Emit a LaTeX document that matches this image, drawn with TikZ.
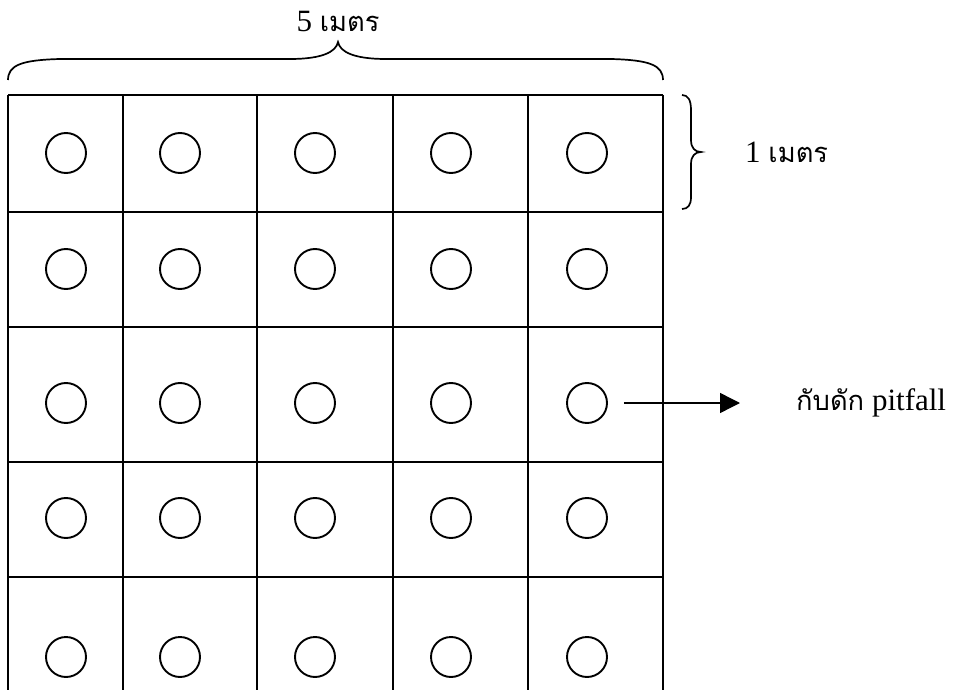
\documentclass[tikz,border=0pt]{standalone}
\usepackage{fontspec}
\setmainfont{Liberation Serif}
\newfontfamily\thaifont[Script=Thai,Scale=0.88]{Loma}
\usetikzlibrary{arrows.meta}
\begin{document}
\begin{tikzpicture}[x=1pt,y=-1pt,
  gridline/.style={line width=2.2pt},
  pit/.style={circle,draw,line width=1.9pt,minimum size=40pt,inner sep=0pt},
  bracestyle/.style={line width=1.7pt},
  lbl/.style={font=\fontsize{31}{35}\selectfont, inner sep=0pt},
  arrowline/.style={line width=1.4pt,-{Triangle[length=20pt,width=20pt]}},
  ]
\clip (0,0) rectangle (954,690);
\fill[white] (0,0) rectangle (954,690);
% grid
\foreach \x in {8,123,257,393,528,663}
  \draw[gridline] (\x,95) -- (\x,700);
\foreach \y in {95,212,327,462,577}
  \draw[gridline] (8,\y) -- (663,\y);
% pitfall traps
\foreach \cx [count=\c] in {66,180,315,451,587}
  \foreach \cy [count=\r] in {153,269,403,518,657}
    \node[pit] (c\r\c) at (\cx,\cy) {};
% top brace
\draw[bracestyle] (8,80) .. controls (8,65) and (22,60) .. (60,59) -- (290,59)
  .. controls (322,59) and (336,52) .. (338,42)
  .. controls (340,52) and (354,59) .. (386,59) -- (611,59)
  .. controls (649,60) and (663,65) .. (663,80);
\node[lbl] (top) at (338,22) {5 {\thaifont เมตร}};
% right brace
\draw[bracestyle] (682,95) .. controls (688,95) and (691,100) .. (691,110) -- (691,140)
  .. controls (691,148) and (695,152) .. (701,152)
  .. controls (695,152) and (691,156) .. (691,164) -- (691,197)
  .. controls (691,205) and (688,209) .. (682,209);
\node[lbl,anchor=west] (side) at (745,152) {1 {\thaifont เมตร}};
% arrow to label
\coordinate (tip) at (740,403);
\draw[arrowline] ([xshift=16pt]c35.east) -- (tip);
\node[lbl,anchor=west] (pitlbl) at (796,403) {{\thaifont กับดัก} pitfall};
\end{tikzpicture}
\end{document}
